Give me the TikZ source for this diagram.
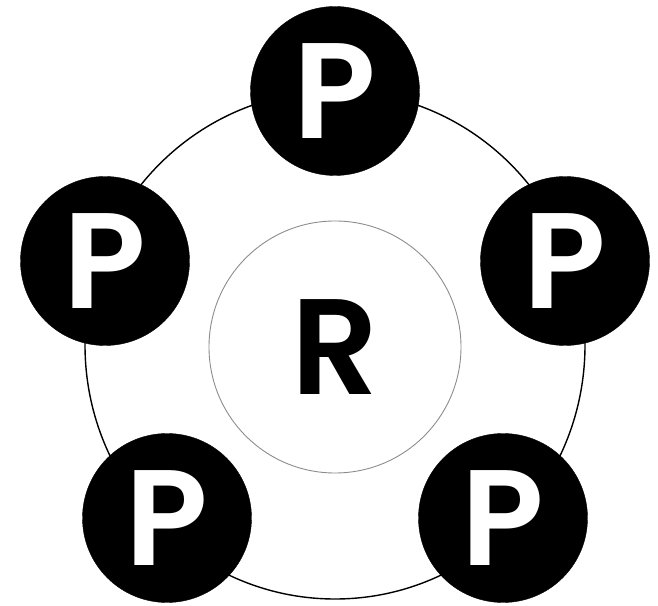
\documentclass[tikz,border=0pt]{standalone}
\usepackage{fontspec}
\setmainfont{Poppins}
\newfontfamily\letterfont{Poppins SemiBold}
\usetikzlibrary{positioning}

\begin{document}
\begin{tikzpicture}[x=1pt,y=1pt,
  pnode/.style={circle,fill=black,draw=black,minimum size=169pt,inner sep=0pt,
    text=white,font=\fontsize{136}{136}\letterfont},
  rnode/.style={circle,draw=black!45,line width=0.9pt,minimum size=252pt,inner sep=0pt,
    font=\fontsize{136}{136}\letterfont}]
  \useasboundingbox (0,0) rectangle (658,605);
  % outer ring
  \draw[line width=1.4pt] (335,260) ellipse [x radius=250, y radius=254];
  % centre
  \node[rnode] (ring) at (335,258) {R};
  % the five P's
  \node[pnode] (pTop)   at (335,514) {P};
  \node[pnode] (pLeft)  at (105,344) {P};
  \node[pnode] (pRight) at (565,344) {P};
  \node[pnode] (pBotL)  at (167,87)  {P};
  \node[pnode] (pBotR)  at (503,87)  {P};
\end{tikzpicture}
\end{document}
